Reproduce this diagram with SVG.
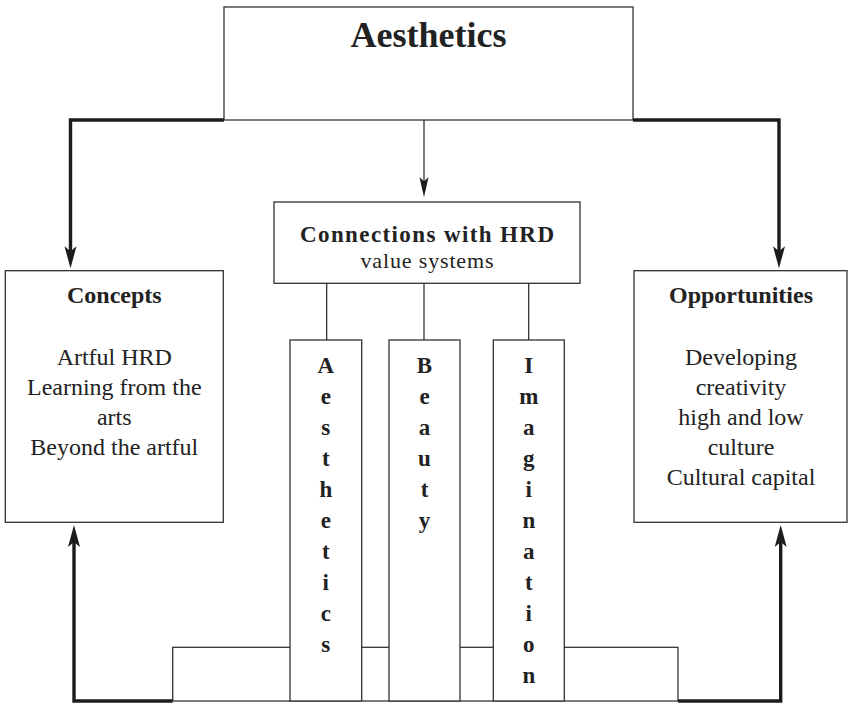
<svg xmlns="http://www.w3.org/2000/svg" width="849" height="703" viewBox="0 0 849 703">
  <style>
    .box { fill: #ffffff; stroke: #333333; stroke-width: 1.3; }
    .thin { fill: none; stroke: #222222; stroke-width: 1.2; }
    .thick { fill: none; stroke: #1c1c1c; stroke-width: 3.4; stroke-linejoin: miter; }
    text { font-family: "Liberation Serif", "Times New Roman", serif; fill: #222222; text-anchor: middle; }
    .title { font-size: 36px; font-weight: bold; }
    .head { font-size: 24px; font-weight: bold; }
    .body { font-size: 24px; }
    .hubhead { font-size: 23px; font-weight: bold; }
    .hubbody { font-size: 22px; }
    .letters { font-size: 23px; font-weight: bold; }
  </style>
  <defs>
    <marker id="headThick" markerUnits="userSpaceOnUse" markerWidth="30" markerHeight="16" viewBox="-6 -8 30 16" refX="0" refY="0" orient="auto" overflow="visible">
      <path d="M17,0 L-5,-6 L0,0 L-5,6 Z" fill="#1c1c1c"/>
    </marker>
    <marker id="headThin" markerUnits="userSpaceOnUse" markerWidth="26" markerHeight="12" viewBox="-6 -6 26 12" refX="0" refY="0" orient="auto" overflow="visible">
      <path d="M16,0 L-4,-4.5 L0,0 L-4,4.5 Z" fill="#1c1c1c"/>
    </marker>
  </defs>

  <rect width="849" height="703" fill="#ffffff"/>

  <!-- top node -->
  <g id="aesthetics">
    <rect class="box" x="224" y="7" width="409" height="113"/>
    <text class="title" x="428.5" y="47">Aesthetics</text>
  </g>

  <!-- central hub -->
  <g id="connections">
    <rect class="box" x="274" y="202" width="306" height="81.3"/>
    <text class="hubhead" x="427" y="241.5" textLength="254" lengthAdjust="spacing">Connections with HRD</text>
    <text class="hubbody" x="427" y="267.5" textLength="133" lengthAdjust="spacing">value systems</text>
  </g>

  <!-- side nodes -->
  <g id="concepts">
    <rect class="box" x="5.3" y="270.7" width="218" height="251.6"/>
    <text class="head" x="114.3" y="303.3">Concepts</text>
    <text class="body" x="114.3" y="365">Artful HRD</text>
    <text class="body" x="114.3" y="395">Learning from the</text>
    <text class="body" x="114.3" y="425">arts</text>
    <text class="body" x="114.3" y="455">Beyond the artful</text>
  </g>

  <g id="opportunities">
    <rect class="box" x="634" y="270.7" width="213" height="251.6"/>
    <text class="head" x="741" y="303.3">Opportunities</text>
    <text class="body" x="741" y="365">Developing</text>
    <text class="body" x="741" y="395">creativity</text>
    <text class="body" x="741" y="425">high and low</text>
    <text class="body" x="741" y="455">culture</text>
    <text class="body" x="741" y="485">Cultural capital</text>
  </g>

  <!-- base block under the three columns -->
  <g id="base">
    <rect class="box" x="172.7" y="647.3" width="505.3" height="53.7"/>
  </g>

  <!-- value columns, letters stacked vertically -->
  <g id="col-aesthetics">
    <rect class="box" x="290" y="340" width="71.7" height="361"/>
    <text class="letters" x="325.8" y="372.7">A<tspan x="325.8" dy="31">e</tspan><tspan x="325.8" dy="31">s</tspan><tspan x="325.8" dy="31">t</tspan><tspan x="325.8" dy="31">h</tspan><tspan x="325.8" dy="31">e</tspan><tspan x="325.8" dy="31">t</tspan><tspan x="325.8" dy="31">i</tspan><tspan x="325.8" dy="31">c</tspan><tspan x="325.8" dy="31">s</tspan></text>
  </g>

  <g id="col-beauty">
    <rect class="box" x="389" y="340" width="71" height="361"/>
    <text class="letters" x="424.5" y="372.7">B<tspan x="424.5" dy="31">e</tspan><tspan x="424.5" dy="31">a</tspan><tspan x="424.5" dy="31">u</tspan><tspan x="424.5" dy="31">t</tspan><tspan x="424.5" dy="31">y</tspan></text>
  </g>

  <g id="col-imagination">
    <rect class="box" x="493.3" y="340" width="71" height="361"/>
    <text class="letters" x="528.8" y="372.7">I<tspan x="528.8" dy="31">m</tspan><tspan x="528.8" dy="31">a</tspan><tspan x="528.8" dy="31">g</tspan><tspan x="528.8" dy="31">i</tspan><tspan x="528.8" dy="31">n</tspan><tspan x="528.8" dy="31">a</tspan><tspan x="528.8" dy="31">t</tspan><tspan x="528.8" dy="31">i</tspan><tspan x="528.8" dy="31">o</tspan><tspan x="528.8" dy="31">n</tspan></text>
  </g>

  <!-- connectors -->
  <g id="connectors">
    <path class="thick" d="M224,120 H70.5 V251.3" marker-end="url(#headThick)"/>
    <path class="thick" d="M633,120 H779 V251.3" marker-end="url(#headThick)"/>
    <path class="thin" d="M424,120 V181.3" marker-end="url(#headThin)"/>
    <path class="thin" d="M326.7,283.3 V340"/>
    <path class="thin" d="M424,283.3 V340"/>
    <path class="thin" d="M528.7,283.3 V340"/>
    <path class="thick" d="M172.7,701 H74 V542" marker-end="url(#headThick)"/>
    <path class="thick" d="M678,701 H780.7 V542" marker-end="url(#headThick)"/>
  </g>
</svg>
